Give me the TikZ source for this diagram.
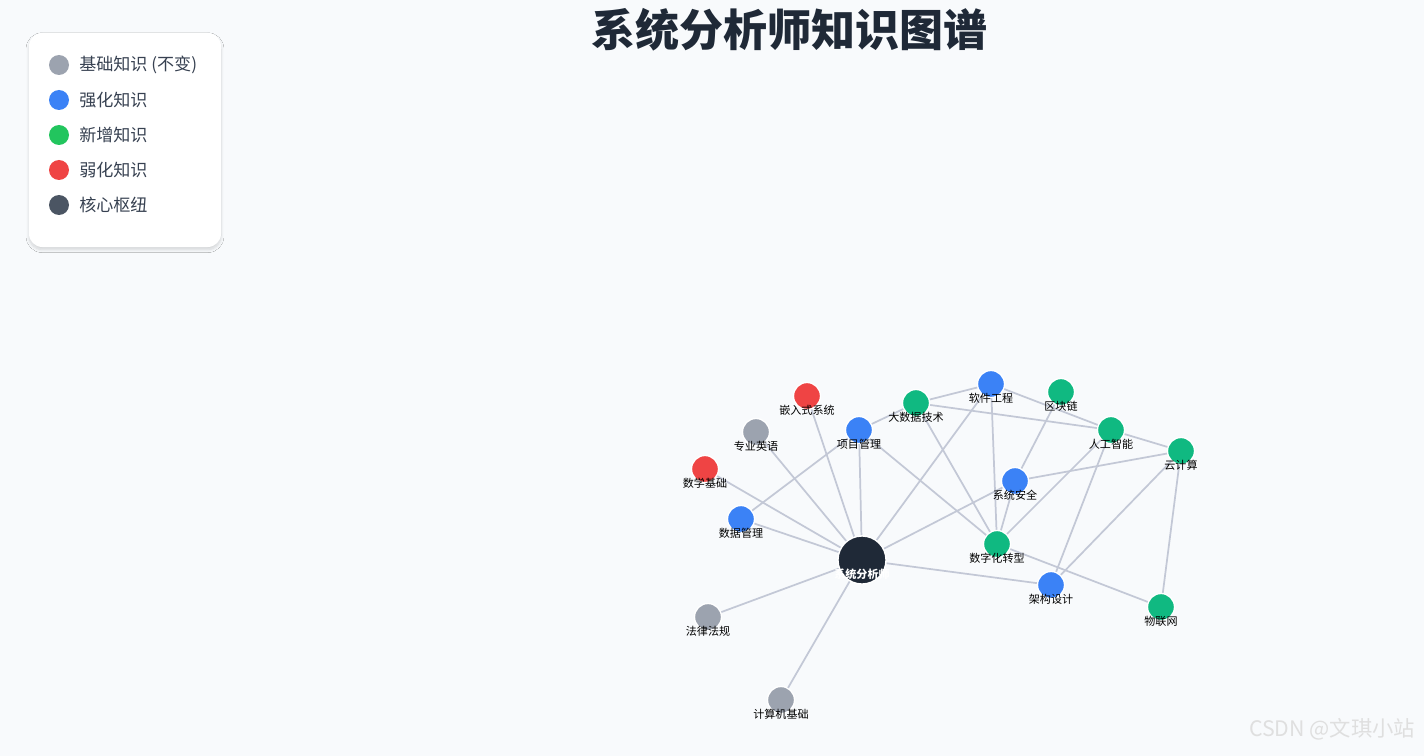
\documentclass[tikz,border=0pt]{standalone}
\usepackage{fontspec}
\setmainfont{Noto Sans CJK SC}
\usetikzlibrary{shadows.blur}
\definecolor{bg}{HTML}{F8FAFC}
\definecolor{cgray}{HTML}{9CA3AF}
\definecolor{cblue}{HTML}{3B82F6}
\definecolor{cgreen}{HTML}{10B981}
\definecolor{lgreen}{HTML}{22C55E}
\definecolor{cred}{HTML}{EF4444}
\definecolor{cdark}{HTML}{1F2937}
\definecolor{ldark}{HTML}{4B5563}
\definecolor{edge}{HTML}{C3C8D6}
\definecolor{ltxt}{HTML}{374151}
\tikzset{
  kn/.style={circle,draw=white,line width=1pt,minimum size=27pt*0.75,inner sep=0pt,fill=#1},
  lab/.style={font=\fontsize{8.3}{9}\selectfont,text=black,inner sep=0pt},
  conn/.style={edge,line width=1.3pt},
  ldot/.style={circle,minimum size=15pt,inner sep=0pt,fill=#1},
  ltext/.style={anchor=west,font=\fontsize{12.8}{14}\selectfont,text=ltxt,inner sep=0pt},
}
\begin{document}
\begin{tikzpicture}[x=0.75pt,y=-0.75pt]
\fill[bg] (0,0) rectangle (1424,756);
\useasboundingbox (0,0) rectangle (1424,756);
\node[font=\bfseries\fontsize{33}{36}\selectfont,text=cdark] (title) at (789,30) {系统分析师知识图谱};
% legend
\node[draw=none,fill=white,rounded corners=10pt,minimum width=144pt,minimum height=160.5pt,blur shadow={shadow blur steps=8,shadow xshift=0pt,shadow yshift=-2pt,shadow opacity=15}] (legend) at (125,140) {};
\foreach \y/\c/\t [count=\i] in {65/cgray/基础知识 (不变),100/cblue/强化知识,135/lgreen/新增知识,170/cred/弱化知识,205/ldark/核心枢纽}{
  \node[ldot=\c] (ld\i) at (59,\y) {};
  \node[ltext] (lt\i) at (79,\y) {\t};
}
% nodes
\foreach \n/\x/\y/\c in {emb/807/396/cred, eng/756/432/cgray, math/705/469/cred, dm/741/519/cblue, pm/859/430/cblue, bd/916/403/cgreen, se/991/384/cblue, bc/1061/392/cgreen, ai/1111/430/cgreen, cc/1181/451/cgreen, ss/1015/481/cblue, dt/997/544/cgreen, ad/1051/585/cblue, iot/1161/607/cgreen, law/708/617/cgray, cb/781/700/cgray}{
  \coordinate (p\n) at (\x,\y);
}
\node[kn=cdark,minimum size=36pt] (C) at (862,560) {};
\begin{scope}[on background layer/.style={}]
\foreach \a/\b in {C/emb,C/eng,C/math,C/dm,C/pm,C/se,C/ss,C/ad,C/law,C/cb}{
  \draw[conn] (C) -- (p\b);
}
\foreach \a/\b in {dm/pm,pm/bd,pm/dt,bd/se,bd/ai,bd/dt,se/ai,se/dt,bc/ss,ai/cc,ai/dt,ai/ad,cc/ss,cc/ad,cc/iot,ss/dt,dt/iot}{
  \draw[conn] (p\a) -- (p\b);
}
\end{scope}
\node[kn=cdark,minimum size=36pt] (C2) at (862,560) {};
\foreach \n/\c/\t in {emb/cred/嵌入式系统, eng/cgray/专业英语, math/cred/数学基础, dm/cblue/数据管理, pm/cblue/项目管理, bd/cgreen/大数据技术, se/cblue/软件工程, bc/cgreen/区块链, ai/cgreen/人工智能, cc/cgreen/云计算, ss/cblue/系统安全, dt/cgreen/数字化转型, ad/cblue/架构设计, iot/cgreen/物联网, law/cgray/法律法规, cb/cgray/计算机基础}{
  \node[kn=\c] (n\n) at (p\n) {};
  \node[lab] (l\n) at ([yshift=-14.5*0.75pt]p\n) {\t};
}
\node[lab,text=white,font=\bfseries\fontsize{8.3}{9}\selectfont] (lC) at (862,574) {系统分析师};
\node[font=\fontsize{16}{18}\selectfont,text=white!75!gray,anchor=east] (wm) at (1420,729) {CSDN @文琪小站};
\end{tikzpicture}
\end{document}
